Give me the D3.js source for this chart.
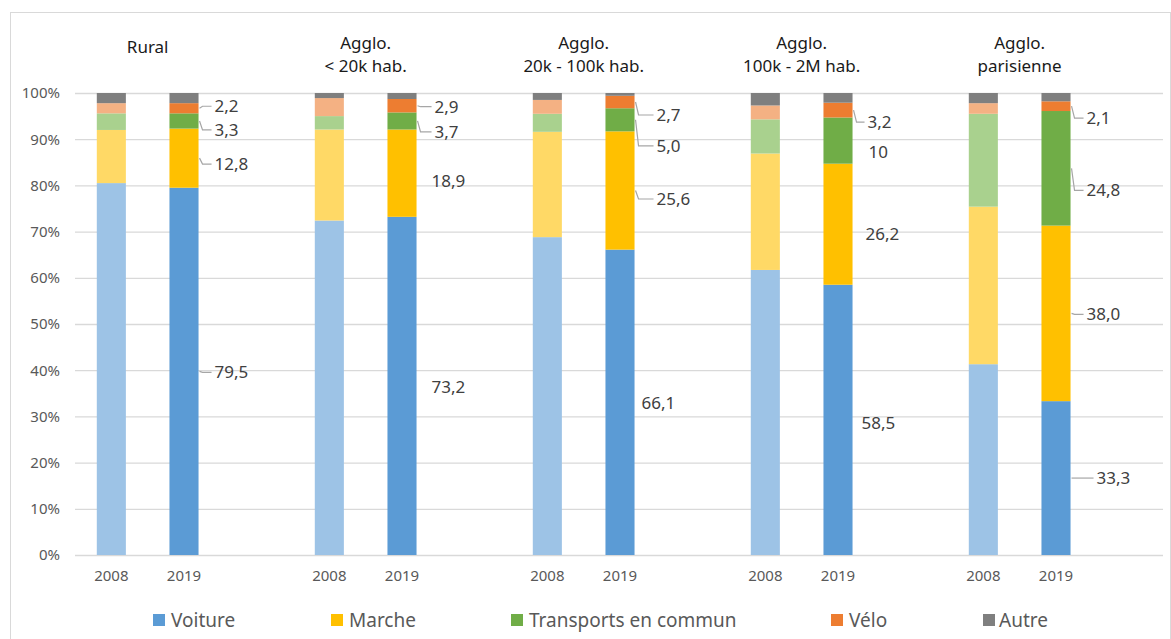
<!DOCTYPE html>
<html lang="fr">
<head>
<meta charset="utf-8">
<script src="https://cdn.jsdelivr.net/npm/d3@7"></script>
<style>
  html, body { margin: 0; padding: 0; background: #fff; }
  svg { display: block; font-family: "Noto Sans", "Open Sans", sans-serif; }
</style>
</head>
<body>
<svg id="chart" width="1171" height="639"></svg>
<script>
// Parts modales des déplacements par type de territoire (%), 2008 et 2019
const regions = [
  ["Rural"],
  ["Agglo.", "< 20k hab."],
  ["Agglo.", "20k - 100k hab."],
  ["Agglo.", "100k - 2M hab."],
  ["Agglo.", "parisienne"]
];
const years = ["2008", "2019"];
const modes = ["Voiture", "Marche", "Transports en commun", "Vélo", "Autre"];

// 2008
const voiture2008 = [80.5, 72.4, 68.8, 61.7, 41.3];
const marche2008  = [11.5, 19.7, 22.8, 25.2, 34.1];
const tc2008      = [3.6, 2.9, 3.9, 7.4, 20.1];
const velo2008    = [2.2, 3.9, 3.0, 3.0, 2.3];
const autre2008   = [2.2, 1.1, 1.5, 2.7, 2.2];

// 2019 (libellés publiés)
const voiture2019 = ["79,5", "73,2", "66,1", "58,5", "33,3"];
const marche2019  = ["12,8", "18,9", "25,6", "26,2", "38,0"];
const tc2019      = ["3,3", "3,7", "5,0", "10", "24,8"];
const velo2019    = ["2,2", "2,9", "2,7", "3,2", "2,1"];
const autre2019   = [2.2, 1.3, 0.6, 2.1, 1.8];

const yTicks = [0, 10, 20, 30, 40, 50, 60, 70, 80, 90, 100];

const colors2019 = ["#5B9BD5", "#FFC000", "#70AD47", "#ED7D31", "#7F7F7F"];
const colors2008 = ["#9DC3E6", "#FFD966", "#A9D18E", "#F4B183", "#7F7F7F"];

// Placement des étiquettes 2019 : décalage vertical, décalage horizontal, trait de rappel
const calloutDy = [[1, 6, 9, -2], [1, 8, 11, 1], [1, 8.5, 26, 13], [3, 10, 11, 12], [0, 1, 22, 12]];
const calloutDx = [[16, 16, 16, 16], [15, 15, 18, 18], [7, 22, 22, 22], [9, 13, 16, 15], [26, 16, 16, 16]];
const calloutLeader = [[1, 1, 1, 1], [0, 0, 1, 1], [0, 1, 1, 1], [0, 0, 0, 1], [1, 1, 1, 1]];

const num = s => typeof s === "number" ? s : +s.replace(",", ".");

const series2008 = [voiture2008, marche2008, tc2008, velo2008, autre2008];
const series2019 = [voiture2019, marche2019, tc2019, velo2019, autre2019];

// One row per bar
const rows = [];
regions.forEach((r, i) => {
  years.forEach(y => {
    const src = y === "2008" ? series2008 : series2019;
    const row = { key: i + "-" + y, region: i, year: y };
    modes.forEach((m, k) => { row[m] = num(src[k][i]); });
    rows.push(row);
  });
});

const slots = [];
regions.forEach((r, i) => { slots.push(i + "-2008", i + "-2019", i + "-gap"); });

const svg = d3.select("#chart");

// Chart frame
svg.append("rect")
  .attr("x", 10.5).attr("y", 12.5)
  .attr("width", 1160).attr("height", 640)
  .attr("fill", "none").attr("stroke", "#d9d9d9").attr("stroke-width", 1);

const x = d3.scaleBand().domain(slots).range([75, 1165]).paddingInner(0.6).paddingOuter(0.3);
const y = d3.scaleLinear().domain([0, 100]).range([555, 93]);

// Gridlines and y axis
const yAxis = d3.axisLeft(y).tickValues(yTicks).tickFormat(d => d + "%").tickSize(-(1163 - 75)).tickPadding(15);
const gy = svg.append("g").attr("transform", "translate(75,0)").call(yAxis);
gy.select(".domain").remove();
gy.selectAll(".tick line").attr("stroke", "#d9d9d9").attr("stroke-width", 1.3);
gy.selectAll(".tick text").attr("fill", "#595959").style("font-size", "15px")
  .style("font-family", "'Noto Sans', sans-serif");

// x axis: year labels
const xAxis = d3.axisBottom(x).tickValues(slots.filter(s => !s.endsWith("gap")))
  .tickFormat(s => s.split("-")[1]).tickSize(0).tickPadding(15);
const gx = svg.append("g").attr("transform", "translate(0,555)").call(xAxis);
gx.select(".domain").remove();
gx.selectAll(".tick text").attr("fill", "#595959").style("font-size", "15px")
  .style("font-family", "'Noto Sans', sans-serif");

// Stacked bars
const stack = d3.stack().keys(modes);
const stacked = stack(rows);

stacked.forEach((layer, k) => {
  svg.append("g").selectAll("rect")
    .data(layer)
    .join("rect")
    .attr("x", d => x(d.data.key))
    .attr("width", x.bandwidth())
    .attr("y", d => y(d[1]))
    .attr("height", d => y(d[0]) - y(d[1]))
    .attr("fill", d => d.data.year === "2008" ? colors2008[k] : colors2019[k]);
});

// Region titles
regions.forEach((lines, i) => {
  const cx = (x(i + "-2008") + x(i + "-2019") + x.bandwidth()) / 2;
  const t = svg.append("text")
    .attr("x", cx)
    .attr("text-anchor", "middle")
    .attr("fill", "#1a1a1a")
    .style("font-size", "17px");
  if (lines.length === 1) {
    t.append("tspan").attr("x", cx).attr("y", 53).text(lines[0]);
  } else {
    lines.forEach((l, j) => t.append("tspan").attr("x", cx).attr("y", 49 + j * 23).text(l));
  }
});

// Value labels on 2019 bars (Voiture, Marche, TC, Vélo)
const labels = svg.append("g");
stacked.slice(0, 4).forEach((layer, k) => {
  layer.filter(d => d.data.year === "2019").forEach(d => {
    const i = d.data.region;
    const right = x(d.data.key) + x.bandwidth();
    const mid = (y(d[0]) + y(d[1])) / 2;
    const ly = mid + calloutDy[i][k];
    const dx = calloutDx[i][k];
    if (calloutLeader[i][k]) {
      labels.append("path")
        .attr("d", `M${right + 1},${mid} L${right + 4},${ly} L${right + dx - 3},${ly}`)
        .attr("fill", "none").attr("stroke", "#a6a6a6").attr("stroke-width", 1.2);
    }
    labels.append("text")
      .attr("x", right + dx)
      .attr("y", ly)
      .attr("dy", "0.35em")
      .attr("fill", "#404040")
      .style("font-size", "17px")
      .text(series2019[k][i]);
  });
});

// Legend
const legendX = [153, 331, 511, 831, 983];
const legend = svg.append("g");
modes.forEach((m, k) => {
  legend.append("rect")
    .attr("x", legendX[k]).attr("y", 614)
    .attr("width", 12).attr("height", 12)
    .attr("fill", colors2019[k]);
  legend.append("text")
    .attr("x", legendX[k] + (k === 4 ? 16 : 18))
    .attr("y", 620).attr("dy", "0.35em")
    .attr("fill", "#595959")
    .style("font-size", "19px")
    .text(m);
});
</script>
</body>
</html>
